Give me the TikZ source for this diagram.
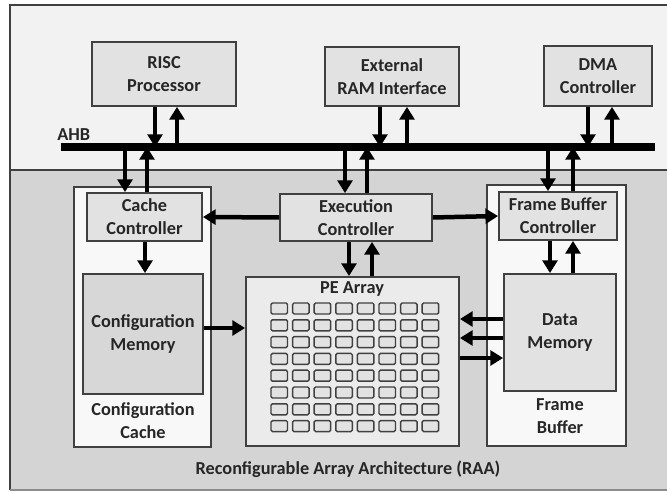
\documentclass[tikz,border=0pt]{standalone}
\usepackage{fontspec}
\setmainfont{Carlito}
\usetikzlibrary{arrows.meta, positioning, calc}
\definecolor{SocTop}{RGB}{242,242,242}
\definecolor{RaaGray}{RGB}{212,212,212}
\definecolor{BlockGray}{RGB}{226,226,226}
\definecolor{HolderWhite}{RGB}{248,248,248}
\definecolor{EdgeGray}{RGB}{64,64,64}
\tikzset{
  block/.style={draw=EdgeGray, line width=1.3pt, fill=BlockGray, align=center,
                font=\fontsize{13}{16.5}\selectfont\bfseries, text=black!85, inner sep=0pt},
  holder/.style={draw=EdgeGray, line width=1.1pt, fill=HolderWhite, inner sep=0pt},
  lbl/.style={font=\fontsize{13}{16.5}\selectfont\bfseries, text=black!85, align=center},
  busarrow/.style={line width=3.2pt, -{Triangle[length=9pt,width=10.5pt]}},
  pecell/.style={draw=EdgeGray, line width=1pt, fill=BlockGray, rounded corners=1pt}
}
\begin{document}
\begin{tikzpicture}[x=0.025cm, y=-0.025cm]
      \useasboundingbox (0,0) rectangle (667,492);

      % two regions: SoC bus side and RAA side
      \fill[SocTop] (10,5) rectangle (670,170);
      \fill[RaaGray] (10,170) rectangle (670,490);
      \draw[EdgeGray, line width=1.2pt] (10,170) -- (670,170);
      \draw[EdgeGray, line width=1.4pt] (670,5) -- (10,5) -- (10,490);
      \draw[black!45, line width=1.2pt] (10,490) -- (670,490);

      % masters/slaves on the AHB
      \node[block, minimum width=3.6cm, minimum height=1.6cm] (risc) at (164,74) {RISC\\Processor};
      \node[block, minimum width=3.35cm, minimum height=1.475cm] (extram) at (392,76.5) {External\\RAM Interface};
      \node[block, minimum width=2.7cm, minimum height=1.5cm] (dma) at (598,76) {DMA\\Controller};

      % AHB bus
      \coordinate (ahbL) at (61,147);
      \coordinate (ahbR) at (655,147);
      \draw[line width=5pt] (ahbL) -- (ahbR);
      \node[lbl, anchor=south west, inner sep=0pt] (ahb) at (57,141) {AHB};

      % holders for config cache and frame buffer
      \node[holder, minimum width=3.425cm, minimum height=6.5cm] (ccache) at (142.5,317) {};
      \node[holder, minimum width=3.475cm, minimum height=6.525cm] (fbuf) at (556.5,315.5) {};

      % controllers
      \node[block, minimum width=2.875cm, minimum height=1.2cm] (cachectl) at (144.5,217) {Cache\\Controller};
      \node[block, minimum width=3.8cm, minimum height=1.175cm] (exec) at (356,217.5) {Execution\\Controller};
      \node[block, minimum width=2.95cm, minimum height=1.2cm] (fbctl) at (558,216) {Frame Buffer\\Controller};

      % memories
      \node[block, fill=BlockGray!95!black, minimum width=3cm, minimum height=3cm] (cfgmem) at (143,334) {Configuration\\Memory};
      \node[block, minimum width=2.8cm, minimum height=2.925cm] (datamem) at (560,332.5) {Data\\Memory};

      % PE array with its 8x8 cells
      \node[block, fill=BlockGray!60!HolderWhite, minimum width=5.325cm, minimum height=4.225cm] (pe) at (352.5,361.5) {};
      \node[lbl] (petitle) at (352,289) {PE Array};
      \foreach \r in {0,...,7}
        \foreach \c in {0,...,7}
          \draw[pecell] (271+\c*21.6, 303+\r*16.8) rectangle ++(16.5,11);

      % labels
      \node[lbl, below=2pt of cfgmem] (ccachelbl) {Configuration\\Cache};
      \node[lbl, below=1pt of datamem] (fbuflbl) {Frame\\Buffer};
      \node[lbl] (raa) at (348,469) {Reconfigurable Array Architecture (RAA)};

      % bus connections
      \draw[busarrow] (155,0 |- risc.south) -- (155,0 |- ahbL);
      \draw[busarrow] (177,0 |- ahbL) -- (177,0 |- risc.south);
      \draw[busarrow] (380,0 |- extram.south) -- (380,0 |- ahbL);
      \draw[busarrow] (407,0 |- ahbL) -- (407,0 |- extram.south);
      \draw[busarrow] (588,0 |- dma.south) -- (588,0 |- ahbL);
      \draw[busarrow] (612,0 |- ahbL) -- (612,0 |- dma.south);
      \draw[busarrow] (125,0 |- ahbL) -- (125,0 |- cachectl.north);
      \draw[busarrow] (147,0 |- cachectl.north) -- (147,0 |- ahbL);
      \draw[busarrow] (345,0 |- ahbL) -- (345,0 |- exec.north);
      \draw[busarrow] (367,0 |- exec.north) -- (367,0 |- ahbL);
      \draw[busarrow] (548,0 |- ahbL) -- (548,0 |- fbctl.north);
      \draw[busarrow] (573,0 |- fbctl.north) -- (573,0 |- ahbL);

      % inside the RAA
      \draw[busarrow] (exec.west) -- (cachectl.east);
      \draw[busarrow] (exec.east) -- (fbctl.west);
      \draw[busarrow] (145,0 |- cachectl.south) -- (145,0 |- cfgmem.north);
      \draw[busarrow] (349,0 |- exec.south) -- (349,0 |- pe.north);
      \draw[busarrow] (372,0 |- pe.north) -- (372,0 |- exec.south);
      \draw[busarrow] (550,0 |- fbctl.south) -- (550,0 |- datamem.north);
      \draw[busarrow] (573,0 |- datamem.north) -- (573,0 |- fbctl.south);
      \draw[busarrow] (cfgmem.east |- 0,328) -- (pe.west |- 0,328);
      \draw[busarrow] (datamem.west |- 0,319) -- (pe.east |- 0,319);
      \draw[busarrow] (datamem.west |- 0,338) -- (pe.east |- 0,338);
      \draw[busarrow] (pe.east |- 0,358) -- (datamem.west |- 0,358);
\end{tikzpicture}
\end{document}
